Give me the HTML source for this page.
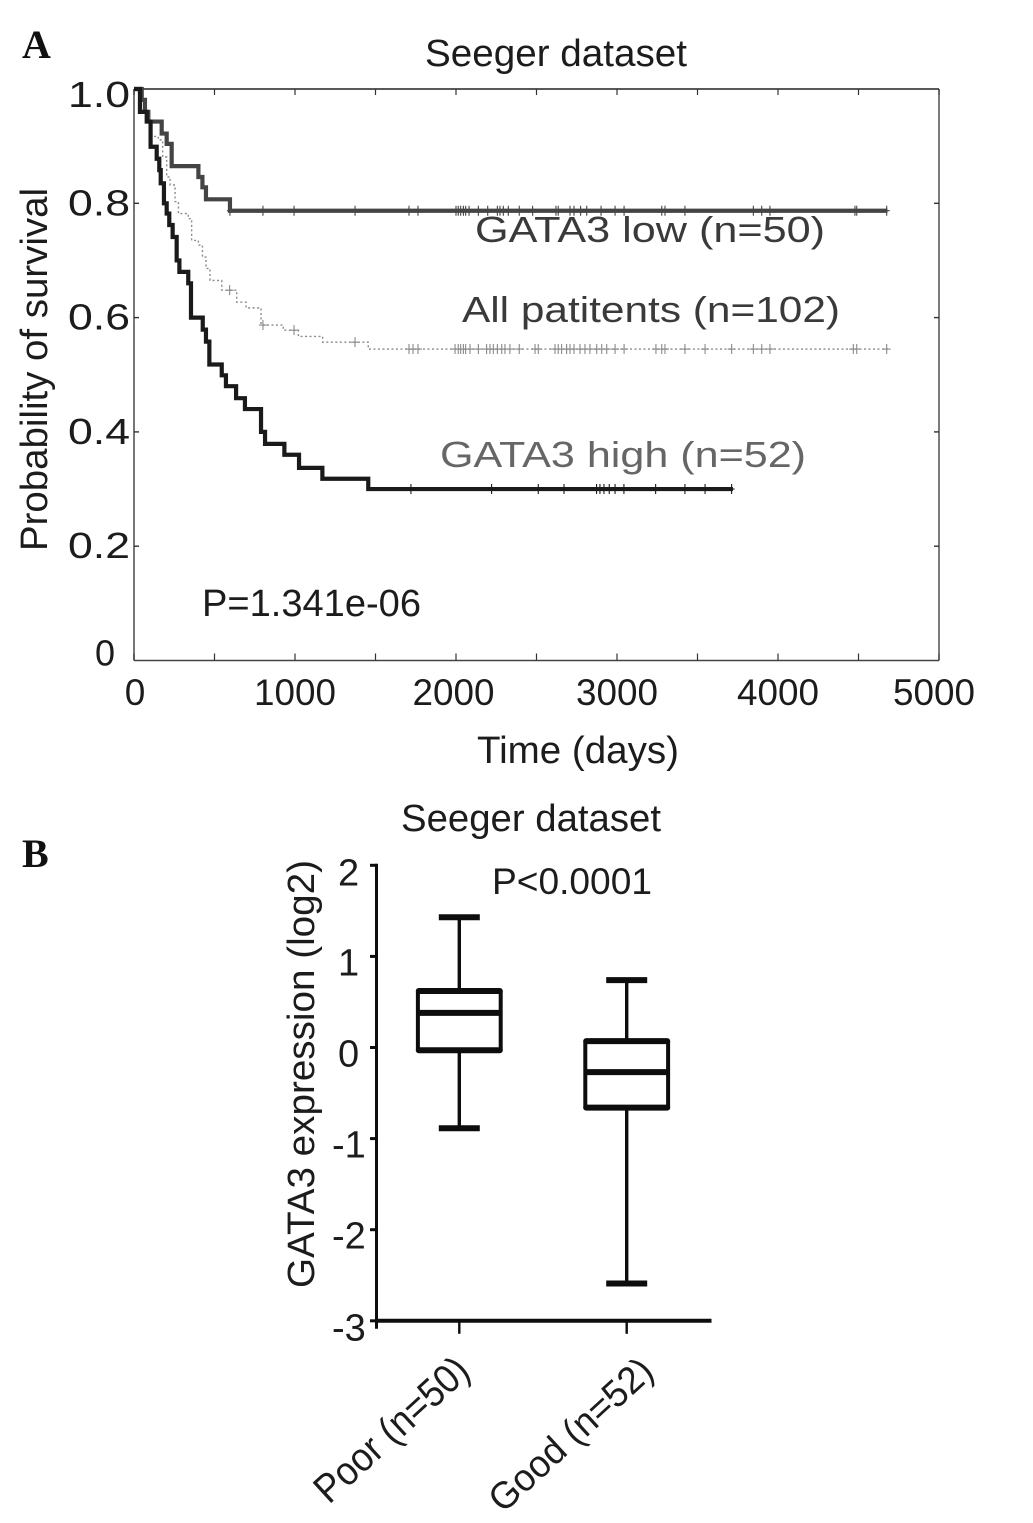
<!DOCTYPE html>
<html lang="en">
<head>
<meta charset="utf-8">
<title>Seeger dataset survival and GATA3 expression</title>
<style>
html,body{margin:0;padding:0;background:#fff;}
svg{display:block;}
text{font-family:"Liberation Sans",sans-serif;fill:#1c1c1c;}
.panel-letter{font-family:"Liberation Serif",serif;font-weight:bold;font-size:40px;fill:#111;}
</style>
</head>
<body>
<svg id="figure" xmlns="http://www.w3.org/2000/svg" width="1033" height="1523" viewBox="0 0 1033 1523">
  <rect x="0" y="0" width="1033" height="1523" fill="#fff"/>
  <text class="panel-letter" x="22" y="58">A</text>
  <text class="panel-letter" x="22" y="867">B</text>

  <g id="panel-a">
    <text x="425" y="66" font-size="38" textLength="262" lengthAdjust="spacingAndGlyphs">Seeger dataset</text>
    <text transform="translate(47,551) rotate(-90)" font-size="38" textLength="363" lengthAdjust="spacingAndGlyphs">Probability of survival</text>
    <text x="477" y="763" font-size="38" textLength="202" lengthAdjust="spacingAndGlyphs">Time (days)</text>
    <text x="202" y="616" font-size="38" textLength="219" lengthAdjust="spacingAndGlyphs">P=1.341e-06</text>
    <text x="475" y="242" font-size="36" style="fill:#3a3a3a" textLength="350" lengthAdjust="spacingAndGlyphs">GATA3 low (n=50)</text>
    <text x="462" y="322" font-size="36" style="fill:#3a3a3a" textLength="378" lengthAdjust="spacingAndGlyphs">All patitents (n=102)</text>
    <text x="440" y="467" font-size="36" style="fill:#666" textLength="366" lengthAdjust="spacingAndGlyphs">GATA3 high (n=52)</text>
    <g id="a-frame"></g>
    <g id="a-curves"></g>
  </g>

  <g id="panel-b">
    <text x="401" y="831" font-size="38" textLength="260" lengthAdjust="spacingAndGlyphs">Seeger dataset</text>
    <text x="492" y="894" font-size="37" textLength="160" lengthAdjust="spacingAndGlyphs">P&lt;0.0001</text>
    <text transform="translate(314,1288) rotate(-90)" font-size="38" textLength="428" lengthAdjust="spacingAndGlyphs">GATA3 expression (log2)</text>
    <g id="b-axes"></g>
    <g id="b-boxes"></g>
  </g>
</svg>
<script>
// ---------- Survival chart data ----------
const survivalXTicks = [0, 1000, 2000, 3000, 4000, 5000];
const survivalXMinorTicks = [0, 500, 1000, 1500, 2000, 2500, 3000, 3500, 4000, 4500, 5000];
const survivalYTicks = [0, 0.2, 0.4, 0.6, 0.8, 1.0];
const survivalYLabels = ['0', '0.2', '0.4', '0.6', '0.8', '1.0'];

const lowTimes = [0, 48, 68, 89, 172, 203, 234, 400, 425, 447, 596, 4680];
const lowProbs = [1, 0.981, 0.96, 0.943, 0.922, 0.904, 0.865, 0.846, 0.828, 0.807, 0.787, 0.787];
const lowCensored = [596, 801, 994, 1373, 1708, 1764, 2000, 2014, 2029, 2046, 2060, 2081, 2139, 2197, 2257, 2273, 2294, 2325, 2393, 2476, 2621, 2635, 2708, 2733, 2774, 2812, 2901, 2988, 3044, 3278, 3298, 3422, 3847, 3899, 3950, 4478, 4489, 4675];

const allTimes = [0, 48, 68, 89, 110, 151, 178, 203, 224, 255, 276, 337, 358, 400, 425, 447, 472, 545, 638, 696, 789, 927, 1021, 1172, 1455, 4683];
const allProbs = [1, 0.981, 0.958, 0.94, 0.917, 0.911, 0.881, 0.846, 0.832, 0.803, 0.782, 0.773, 0.735, 0.727, 0.706, 0.686, 0.665, 0.648, 0.627, 0.617, 0.587, 0.578, 0.567, 0.557, 0.545, 0.545];
const allCensored = [594, 801, 994, 1373, 1708, 1733, 1764, 1994, 2014, 2029, 2046, 2060, 2087, 2139, 2190, 2211, 2232, 2257, 2284, 2304, 2335, 2393, 2491, 2511, 2615, 2635, 2656, 2687, 2708, 2733, 2770, 2801, 2832, 2874, 2905, 2936, 2988, 3044, 3242, 3278, 3298, 3422, 3547, 3712, 3847, 3899, 3950, 4468, 4489, 4675];

const highTimes = [0, 37, 79, 103, 141, 157, 166, 186, 203, 219, 240, 265, 282, 337, 354, 427, 447, 468, 545, 571, 634, 689, 789, 814, 934, 1025, 1170, 1455, 3720];
const highProbs = [1, 0.96, 0.943, 0.899, 0.878, 0.858, 0.835, 0.8, 0.782, 0.762, 0.741, 0.7, 0.68, 0.66, 0.6, 0.579, 0.558, 0.518, 0.499, 0.48, 0.459, 0.44, 0.4, 0.379, 0.36, 0.337, 0.318, 0.3, 0.3];
const highCensored = [1720, 2221, 2511, 2671, 2873, 2894, 2919, 2952, 2988, 3043, 3240, 3422, 3547, 3712];

// ---------- Box plot data ----------
const boxCategories = ['Poor (n=50)', 'Good (n=52)'];
const boxWhiskerHigh = [1.43, 0.74];
const boxQ3 = [0.62, 0.07];
const boxMedian = [0.38, -0.27];
const boxQ1 = [-0.03, -0.66];
const boxWhiskerLow = [-0.887, -2.59];
const boxYTicks = [2, 1, 0, -1, -2, -3];

// ---------- Helpers ----------
const SVGNS = 'http://www.w3.org/2000/svg';
function mk(parent, tag, attrs) {
  const el = document.createElementNS(SVGNS, tag);
  for (const k in attrs) el.setAttribute(k, attrs[k]);
  parent.appendChild(el);
  return el;
}

// ---------- Survival axes ----------
const sx = d => 134 + (d / 5000) * 805;
const sy = p => 660.5 - p * 571.5;
const aFrame = document.getElementById('a-frame');
const aCurves = document.getElementById('a-curves');

const frameLeft = mk(aFrame, 'line', {x1: sx(0), x2: sx(0), y1: sy(1), y2: sy(0), stroke: '#555', 'stroke-width': 1.6});


const frameBottom = mk(aFrame, 'line', {x1: sx(0), x2: sx(5000), y1: sy(0), y2: sy(0), stroke: '#444', 'stroke-width': 1.4});


const frameTop = mk(aFrame, 'line', {x1: sx(0), x2: sx(5000), y1: sy(1), y2: sy(1), stroke: '#222', 'stroke-width': 1.4});


const frameRight = mk(aFrame, 'line', {x1: sx(5000), x2: sx(5000), y1: sy(1), y2: sy(0), stroke: '#444', 'stroke-width': 1.4});



survivalXMinorTicks.forEach(v => {
  const b = mk(aFrame, 'line', {x1: sx(v), x2: sx(v), y1: sy(0) - 7, y2: sy(0), stroke: '#333', 'stroke-width': 1.2});
  
  
  const t = mk(aFrame, 'line', {x1: sx(v), x2: sx(v), y1: sy(1), y2: sy(1) + 6, stroke: '#333', 'stroke-width': 1.2});
  
  
});
survivalXTicks.forEach(v => {
  const label = String(v);
  const nudge = v === 0 ? 1 : v === 5000 ? -5 : v === 2000 ? -2.5 : 0;
  const t = mk(aFrame, 'text', {x: sx(v) + nudge, y: 705, 'font-size': 37, 'text-anchor': 'middle'});
  if (label.length > 1) { t.setAttribute('textLength', 82); t.setAttribute('lengthAdjust', 'spacingAndGlyphs'); }
  t.textContent = label;
  
  
});
survivalYTicks.forEach((v, i) => {
  if (v > 0 && v < 1) {
    const l = mk(aFrame, 'line', {x1: sx(0), x2: sx(0) + 5, y1: sy(v), y2: sy(v), stroke: '#333', 'stroke-width': 1.4});
    
    
    const r = mk(aFrame, 'line', {x1: sx(5000) - 5, x2: sx(5000), y1: sy(v), y2: sy(v), stroke: '#333', 'stroke-width': 1.4});
    
    
  }
  const label = survivalYLabels[i];
  const wide = label.length > 1;
  const t = mk(aFrame, 'text', {x: wide ? 68 : 95, y: sy(v) + (v === 0 ? 5 : v === 1 ? 18 : 12), 'font-size': 36});
  if (wide) { t.setAttribute('textLength', 62); t.setAttribute('lengthAdjust', 'spacingAndGlyphs'); }
  t.textContent = label;
  
  
});

// ---------- Survival curves ----------
function stepPath(times, probs) {
  let d = 'M' + sx(times[0]) + ' ' + sy(probs[0]);
  for (let i = 1; i < times.length; i++) {
    d += ' H' + sx(times[i]) + ' V' + sy(probs[i]);
  }
  return d;
}
function probAt(times, probs, t) {
  let p = probs[0];
  for (let i = 0; i < times.length; i++) {
    if (times[i] <= t) p = probs[i];
  }
  return p;
}
function drawCurve(name, times, probs, censored, style, half, hw, tw) {
  const g = mk(aCurves, 'g', {});
  
  
  const path = mk(g, 'path', Object.assign({d: stepPath(times, probs), fill: 'none'}, style));
  
  
  censored.forEach(t => {
    const x = sx(t), y = sy(probAt(times, probs, t));
    const m = mk(g, 'path', {d: 'M' + x + ' ' + (y - half) + ' V' + (y + half) + ' M' + (x - hw) + ' ' + y + ' H' + (x + hw), stroke: style.censor, 'stroke-width': tw, fill: 'none'});
    
    
  });
}
drawCurve('all-patients', allTimes, allProbs, allCensored, {stroke: '#8a8a8a', 'stroke-width': 1.4, 'stroke-dasharray': '2 2.5', censor: '#8a8a8a'}, 5, 4, 1.1);
drawCurve('gata3-low', lowTimes, lowProbs, lowCensored, {stroke: '#444', 'stroke-width': 4.2, censor: '#444'}, 5, 3, 1.1);
drawCurve('gata3-high', highTimes, highProbs, highCensored, {stroke: '#1a1a1a', 'stroke-width': 4.2, censor: '#1a1a1a'}, 5, 3, 1.1);

// ---------- Box plot axes ----------
const by = v => 1047.5 - v * 91.1;
const bx = i => 459.3 + i * 167.4;
const bAxes = document.getElementById('b-axes');
const bBoxes = document.getElementById('b-boxes');

const yAxis = mk(bAxes, 'line', {x1: 376.5, x2: 376.5, y1: by(2) - 1.5, y2: by(-3) + 8, stroke: '#0d0d0d', 'stroke-width': 3});


const xAxis = mk(bAxes, 'line', {x1: 375, x2: 711.5, y1: by(-3), y2: by(-3), stroke: '#0d0d0d', 'stroke-width': 4});



boxYTicks.forEach(v => {
  const k = mk(bAxes, 'line', {x1: 370, x2: 377, y1: by(v), y2: by(v), stroke: '#0d0d0d', 'stroke-width': 3});
  
  
  const t = mk(bAxes, 'text', {x: v < 0 ? 332 : 338, y: by(v) + (v === -3 ? 19.5 : v === 2 ? 20 : 19), 'font-size': 38});
  t.textContent = String(v);
  
  
});

const catLabelAnchors = [[329, 1505, 194, 40], [503, 1514, 207, 38]];
boxCategories.forEach((name, i) => {
  const x = bx(i);
  const tick = mk(bAxes, 'line', {x1: x, x2: x, y1: by(-3), y2: by(-3) + 13, stroke: '#0d0d0d', 'stroke-width': 2.4});
  
  
  const a = catLabelAnchors[i];
  const label = mk(bAxes, 'text', {transform: 'translate(' + a[0] + ',' + a[1] + ') rotate(-42.5)', 'font-size': a[3], textLength: a[2], lengthAdjust: 'spacingAndGlyphs'});
  label.textContent = name;
  
  

  const g = mk(bBoxes, 'g', {});
  
  
  const whisker = mk(g, 'path', {d: 'M' + x + ' ' + by(boxWhiskerHigh[i]) + ' V' + by(boxQ3[i]) + ' M' + x + ' ' + by(boxQ1[i]) + ' V' + by(boxWhiskerLow[i]), stroke: '#0d0d0d', 'stroke-width': 3.4, fill: 'none'});
  
  
  const capTop = mk(g, 'line', {x1: x - 20.5, x2: x + 20.5, y1: by(boxWhiskerHigh[i]), y2: by(boxWhiskerHigh[i]), stroke: '#0d0d0d', 'stroke-width': 6});
  
  
  const capLow = mk(g, 'line', {x1: x - 20.5, x2: x + 20.5, y1: by(boxWhiskerLow[i]), y2: by(boxWhiskerLow[i]), stroke: '#0d0d0d', 'stroke-width': 6});
  
  
  const sides = mk(g, 'path', {d: 'M' + (x - 41.4) + ' ' + by(boxQ3[i]) + ' V' + by(boxQ1[i]) + ' M' + (x + 41.4) + ' ' + by(boxQ3[i]) + ' V' + by(boxQ1[i]), stroke: '#0d0d0d', 'stroke-width': 4, fill: 'none'});
  
  
  const q3 = mk(g, 'line', {x1: x - 40.5, x2: x + 40.5, y1: by(boxQ3[i]), y2: by(boxQ3[i]), stroke: '#0d0d0d', 'stroke-width': 6, 'stroke-linecap': 'round'});
  
  
  const med = mk(g, 'line', {x1: x - 41, x2: x + 41, y1: by(boxMedian[i]), y2: by(boxMedian[i]), stroke: '#0d0d0d', 'stroke-width': 6});
  
  
  const q1 = mk(g, 'line', {x1: x - 40.5, x2: x + 40.5, y1: by(boxQ1[i]), y2: by(boxQ1[i]), stroke: '#0d0d0d', 'stroke-width': 6, 'stroke-linecap': 'round'});
  
  
});
</script>
</body>
</html>
